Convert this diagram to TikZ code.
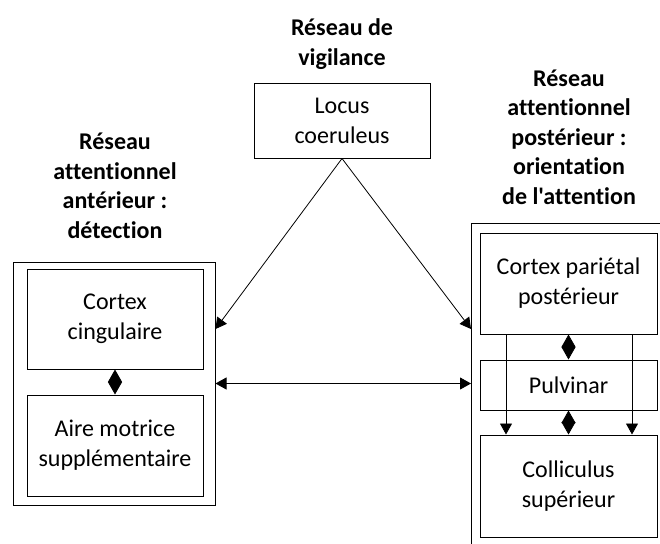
\documentclass[tikz,border=0pt]{standalone}
\usepackage{fontspec}
\setmainfont{Carlito}[Ligatures={NoCommon,TeXOff}]
\usetikzlibrary{arrows.meta}
\begin{document}
\begin{tikzpicture}[x=1pt,y=-1pt,
  box/.style={draw=black,line width=1pt,minimum width=#1,inner sep=0pt,align=center,
    font=\fontsize{24}{30}\selectfont},
  box/.default=176pt,
  title/.style={align=center,inner sep=0pt,font=\fontsize{24}{29.5}\selectfont\bfseries},
  link/.style={line width=0.8pt,-{Triangle[length=11pt,width=12pt]}},
  dlink/.style={line width=0.8pt,{Triangle[length=11pt,width=12pt]}-{Triangle[length=11pt,width=12pt]}},
  pair/.style={line width=0.8pt,{Triangle[length=12.5pt,width=14pt]}-{Triangle[length=12.5pt,width=14pt]}}
]
\useasboundingbox (0,0) rectangle (660,543);

% titles
\node[title] (tv) at (342,44) {Réseau de\\vigilance};
\node[title] (ta) at (115,186) {Réseau\\attentionnel\\antérieur :\\détection};
\node[title] (tp) at (569,137) {Réseau\\attentionnel\\postérieur :\\orientation\\de l'attention};

% top
\node[box, minimum height=75pt] (lc) at (342,120.5) {Locus\\coeruleus};

% left network
\node[draw=black,line width=1pt,minimum width=202pt,minimum height=243pt,inner sep=0pt] (lout) at (114,383.5) {};
\node[box, minimum height=100pt] (cc) at (115,319) {Cortex\\cingulaire};
\node[box, minimum height=101pt] (ams) at (115,445.5) {Aire motrice\\supplémentaire};

% right network (outer frame runs past the page)
\begin{scope}
\clip (0,0) rectangle (660,543);
\node[draw=black,line width=1pt,minimum width=240pt,minimum height=360pt,inner sep=0pt,anchor=north west] (rout) at (471,223) {};
\end{scope}
\node[box=177pt, minimum height=101pt] (cpp) at (568.5,283.5) {Cortex pariétal\\postérieur};
\node[box=177pt, minimum height=50pt] (pul) at (568.5,385) {Pulvinar};
\node[box=177pt, minimum height=102pt] (col) at (568.5,486) {Colliculus\\supérieur};

% connectors
\draw[link] (lc.south) -- ([yshift=54.5pt]lout.east);
\draw[link] (lc.south) -- (rout.west |- 0,329);
\draw[dlink] (lout.east) -- (rout.west |- lout.east);
\draw[pair] (cc.south) -- (ams.north);
\draw[pair] (cpp.south) -- (pul.north);
\draw[pair] (pul.south) -- (col.north);
\draw[link] ([xshift=-62.5pt]cpp.south) -- ([xshift=-62.5pt]col.north);
\draw[link] ([xshift=63.5pt]cpp.south) -- ([xshift=63.5pt]col.north);
\end{tikzpicture}
\end{document}
